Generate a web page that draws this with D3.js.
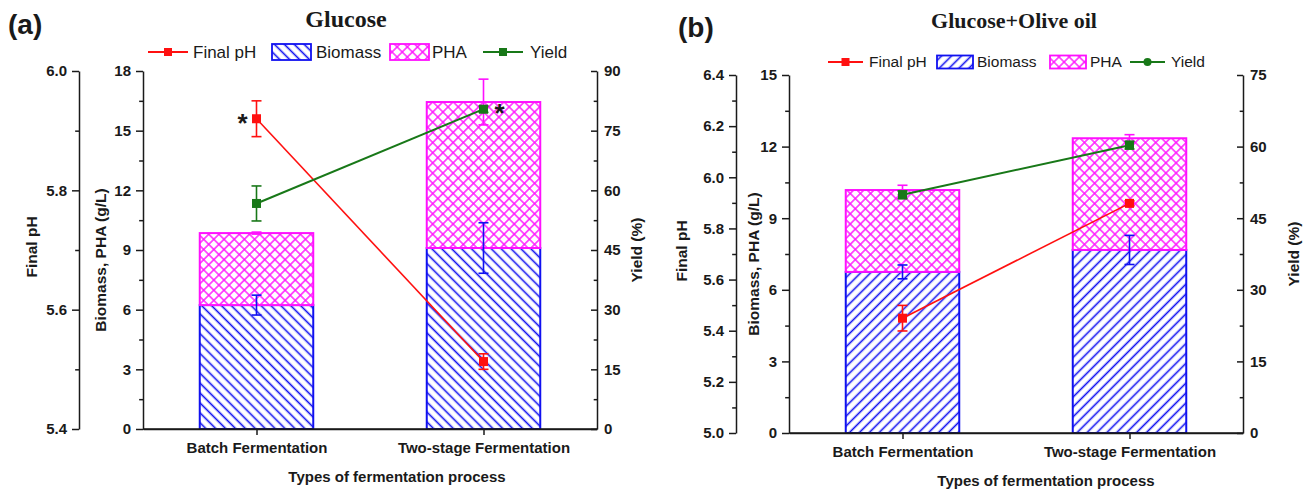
<!DOCTYPE html>
<html>
<head>
<meta charset="utf-8">
<script src="https://cdn.jsdelivr.net/npm/d3@7"></script>
<style>
  body { margin: 0; background: #fff; }
  svg text { font-family: "Liberation Sans", Arial, sans-serif; }
</style>
</head>
<body>
<svg id="chart" width="1310" height="490"></svg>
<script>
// categories shared by both panels
const categories = ["Batch Fermentation", "Two-stage Fermentation"];
const legendLabels = ["Final pH", "Biomass", "PHA", "Yield"];

// panel (a) Glucose
const biomassA = [6.23, 9.1];
const biomassErrA = [0.5, 1.27];
const phaA = [3.62, 7.34];
const phaErrA = [0.05, 1.15];
const phA = [5.92, 5.513];
const phErrA = [0.03, 0.013];
const yieldA = [56.7, 80.4];
const yieldErrA = [4.4, 0.8];
const starsA = [["ph", 0], ["yield", 1]];   // which point gets an asterisk

// panel (b) Glucose+Olive oil
const biomassB = [6.75, 7.67];
const biomassErrB = [0.29, 0.61];
const phaB = [3.43, 4.68];
const phaErrB = [0.2, 0.15];
const phB = [5.449, 5.898];
const phErrB = [0.05, 0.01];
const yieldB = [49.9, 60.3];
const yieldErrB = [0.8, 0.8];

// tick values
const phTicksA = [5.4, 5.6, 5.8, 6.0], phMinorA = [5.5, 5.7, 5.9];
const massTicksA = [0, 3, 6, 9, 12, 15, 18], massMinorA = [1.5, 4.5, 7.5, 10.5, 13.5, 16.5];
const yieldTicksA = [0, 15, 30, 45, 60, 75, 90], yieldMinorA = [7.5, 22.5, 37.5, 52.5, 67.5, 82.5];
const phTicksB = [5.0, 5.2, 5.4, 5.6, 5.8, 6.0, 6.2, 6.4], phMinorB = [5.1, 5.3, 5.5, 5.7, 5.9, 6.1, 6.3];
const massTicksB = [0, 3, 6, 9, 12, 15], massMinorB = [1.5, 4.5, 7.5, 10.5, 13.5];
const yieldTicksB = [0, 15, 30, 45, 60, 75], yieldMinorB = [7.5, 22.5, 37.5, 52.5, 67.5];

const BLUE = "#1010f0", MAGENTA = "#ff10ff", RED = "#ff1010", GREEN = "#187818", INK = "#1a1a1a";

const svg = d3.select("#chart");
const defs = svg.append("defs");

// hatch patterns
function linePattern(id, angle) {
    const p = defs.append("pattern")
        .attr("id", id)
        .attr("patternUnits", "userSpaceOnUse")
        .attr("width", 7).attr("height", 7)
        .attr("patternTransform", `rotate(${angle})`);
    p.append("rect").attr("width", 7).attr("height", 7).attr("fill", "#fff");
    p.append("line").attr("x1", 3.5).attr("x2", 3.5).attr("y1", 0).attr("y2", 7)
        .attr("stroke", BLUE).attr("stroke-width", 1.6);
}
linePattern("hatchBack", -45);
linePattern("hatchFwd", 45);
const cross = defs.append("pattern")
    .attr("id", "cross")
    .attr("patternUnits", "userSpaceOnUse")
    .attr("width", 7.2).attr("height", 7.2)
    .attr("patternTransform", "rotate(45)");
cross.append("rect").attr("width", 7.2).attr("height", 7.2).attr("fill", "#fff");
cross.append("path").attr("d", "M0,3.6H7.2M3.6,0V7.2")
    .attr("stroke", MAGENTA).attr("stroke-width", 1.4);

function marker(g, shape, x, y, color, size) {
    if (shape === "circle") {
        g.append("circle").attr("cx", x).attr("cy", y).attr("r", size / 2).attr("fill", color);
    } else {
        g.append("rect").attr("x", x - size / 2).attr("y", y - size / 2)
            .attr("width", size).attr("height", size).attr("fill", color);
    }
}

function errBar(g, x, y0, y1, color, cap) {
    g.append("line").attr("x1", x).attr("x2", x).attr("y1", y0).attr("y2", y1)
        .attr("stroke", color).attr("stroke-width", 1.6);
    [y0, y1].forEach(yy => g.append("line")
        .attr("x1", x - cap).attr("x2", x + cap).attr("y1", yy).attr("y2", yy)
        .attr("stroke", color).attr("stroke-width", 1.6));
}

function drawPanel(c) {
    const g = svg.append("g");

    const x = d3.scalePoint().domain(categories).range([c.left, c.right]).padding(0.5);
    const yMass = d3.scaleLinear().domain(c.massDomain).range([c.bottom, c.top]);
    const yPh = d3.scaleLinear().domain(c.phDomain).range([c.bottom, c.top]);
    const yYield = d3.scaleLinear().domain(c.yieldDomain).range([c.bottom, c.top]);
    const bw = x.step() * 0.5;

    // stacked bars
    const rows = categories.map((cat, i) => ({cat, bio: c.biomass[i], pha: c.pha[i]}));
    g.selectAll(".bio").data(rows).join("rect")
        .attr("x", d => x(d.cat) - bw / 2).attr("width", bw)
        .attr("y", d => yMass(d.bio)).attr("height", d => yMass(0) - yMass(d.bio))
        .attr("fill", `url(#${c.hatch})`).attr("stroke", BLUE).attr("stroke-width", 2);
    g.selectAll(".pha").data(rows).join("rect")
        .attr("x", d => x(d.cat) - bw / 2).attr("width", bw)
        .attr("y", d => yMass(d.bio + d.pha)).attr("height", d => yMass(d.bio) - yMass(d.bio + d.pha))
        .attr("fill", "url(#cross)").attr("stroke", MAGENTA).attr("stroke-width", 2);

    // error bars on bars
    rows.forEach((d, i) => {
        const bt = d.bio, pt = d.bio + d.pha;
        errBar(g, x(d.cat), yMass(bt + c.biomassErr[i]), yMass(bt - c.biomassErr[i]), BLUE, 5);
        errBar(g, x(d.cat), yMass(pt + c.phaErr[i]), yMass(pt - c.phaErr[i]), MAGENTA, 5);
    });

    // lines
    const lineFor = (vals, sc) => d3.line().x((d, i) => x(categories[i])).y(d => sc(d))(vals);
    g.append("path").attr("d", lineFor(c.ph, yPh)).attr("fill", "none")
        .attr("stroke", RED).attr("stroke-width", 1.6);
    g.append("path").attr("d", lineFor(c.yield, yYield)).attr("fill", "none")
        .attr("stroke", GREEN).attr("stroke-width", 2);

    categories.forEach((cat, i) => {
        errBar(g, x(cat), yPh(c.ph[i] + c.phErr[i]), yPh(c.ph[i] - c.phErr[i]), RED, 5);
        marker(g, "square", x(cat), yPh(c.ph[i]), RED, 9);
        errBar(g, x(cat), yYield(c.yield[i] + c.yieldErr[i]), yYield(c.yield[i] - c.yieldErr[i]), GREEN, 5);
        marker(g, "square", x(cat), yYield(c.yield[i]), GREEN, 9);
    });

    // significance asterisks
    (c.stars || []).forEach(([which, i]) => {
        const yy = which === "ph" ? yPh(c.ph[i]) : yYield(c.yield[i]);
        const dx = which === "ph" ? -14 : 16;
        g.append("text").attr("x", x(categories[i]) + dx).attr("y", yy + 13)
            .attr("text-anchor", "middle").attr("font-size", 26).attr("font-weight", "bold")
            .attr("fill", INK).text("*");
    });

    // axes
    const styleAxis = sel => {
        sel.selectAll("path, line").attr("stroke", INK).attr("stroke-width", 1.5);
        sel.selectAll("text").attr("font-size", 15).attr("font-weight", "bold").attr("fill", INK)
            .style("font-family", '"Liberation Sans", Arial, sans-serif');
    };
    const addAxis = (axisFn, sc, major, minor, fmt, xPos, inner, pad) => {
        g.append("g").attr("transform", `translate(${xPos},0)`)
            .call(axisFn(sc).tickValues(major).tickFormat(fmt).tickSize(inner).tickSizeOuter(0).tickPadding(pad))
            .call(styleAxis);
        g.append("g").attr("transform", `translate(${xPos},0)`)
            .call(axisFn(sc).tickValues(minor).tickFormat("").tickSize(inner * 0.55).tickSizeOuter(0))
            .call(sel => sel.select(".domain").remove())
            .call(styleAxis);
    };
    addAxis(d3.axisLeft, yPh, c.phTicks, c.phMinor, d3.format(".1f"), c.phAxisX, 7, 5);
    addAxis(d3.axisLeft, yMass, c.massTicks, c.massMinor, d3.format("d"), c.left, 7, 5);
    addAxis(d3.axisRight, yYield, c.yieldTicks, c.yieldMinor, d3.format("d"), c.right, -6, 7);

    g.append("g").attr("transform", `translate(0,${c.bottom})`)
        .call(d3.axisBottom(x).tickSize(6).tickSizeOuter(0).tickPadding(7))
        .call(styleAxis);
    g.append("line").attr("x1", c.left).attr("x2", c.right).attr("y1", c.bottom).attr("y2", c.bottom)
        .attr("stroke", INK).attr("stroke-width", 1.5);

    // axis titles
    const mid = (c.top + c.bottom) / 2;
    const vTitle = (txt, cx, cy) => g.append("text")
        .attr("transform", `translate(${cx},${cy}) rotate(-90)`)
        .attr("text-anchor", "middle").attr("dominant-baseline", "central")
        .attr("font-size", 15.5).attr("font-weight", "bold").attr("fill", INK).text(txt);
    vTitle("Final pH", c.phTitleX, mid - 3);
    vTitle("Biomass, PHA (g/L)", c.massTitleX, mid + 10);
    vTitle("Yield (%)", c.yieldTitleX, mid);
    g.append("text").attr("x", c.xTitleX).attr("y", c.xTitleY)
        .attr("text-anchor", "middle").attr("font-size", 15).attr("font-weight", "bold")
        .attr("fill", INK).text("Types of fermentation process");

    // titles
    g.append("text").attr("x", c.titleX).attr("y", c.titleY).attr("text-anchor", "middle")
        .style("font-family", '"Liberation Serif", "Times New Roman", serif')
        .attr("font-size", c.titleSize).attr("font-weight", "bold").attr("fill", INK).text(c.title);
    g.append("text").attr("x", c.tagX).attr("y", c.tagY)
        .attr("font-size", 28).attr("font-weight", "bold").attr("fill", INK).text(c.tag);

    // legend
    const L = c.legend;
    const lg = g.append("g").attr("transform", `translate(0,${L.y})`);
    const textAt = (tx, s) => lg.append("text").attr("x", tx).attr("y", 0).attr("dy", "0.35em")
        .attr("font-size", L.fs).attr("fill", INK).text(s);
    lg.append("line").attr("x1", L.ph[0]).attr("x2", L.ph[0] + L.lineW).attr("stroke", RED).attr("stroke-width", 1.8);
    marker(lg, "square", L.ph[0] + L.lineW / 2, 0, RED, 8);
    textAt(L.ph[1], legendLabels[0]);
    lg.append("rect").attr("x", L.bio[0]).attr("y", -L.sh / 2).attr("width", L.sw).attr("height", L.sh)
        .attr("fill", `url(#${c.hatch})`).attr("stroke", BLUE).attr("stroke-width", 1.8);
    textAt(L.bio[1], legendLabels[1]);
    lg.append("rect").attr("x", L.pha[0]).attr("y", -L.sh / 2).attr("width", L.sw).attr("height", L.sh)
        .attr("fill", "url(#cross)").attr("stroke", MAGENTA).attr("stroke-width", 1.8);
    textAt(L.pha[1], legendLabels[2]);
    lg.append("line").attr("x1", L.yld[0]).attr("x2", L.yld[0] + L.lineW).attr("stroke", GREEN).attr("stroke-width", 1.8);
    marker(lg, L.yieldShape, L.yld[0] + L.lineW / 2, 0, GREEN, 8);
    textAt(L.yld[1], legendLabels[3]);
}

drawPanel({
    tag: "(a)", tagX: 8, tagY: 34, title: "Glucose", titleX: 346, titleY: 27, titleSize: 24,
    left: 143, right: 597, top: 71, bottom: 429, phAxisX: 79,
    massDomain: [0, 18], phDomain: [5.4, 6.0], yieldDomain: [0, 90],
    biomass: biomassA, biomassErr: biomassErrA, pha: phaA, phaErr: phaErrA,
    ph: phA, phErr: phErrA, yield: yieldA, yieldErr: yieldErrA, stars: starsA,
    phTicks: phTicksA, phMinor: phMinorA, massTicks: massTicksA, massMinor: massMinorA,
    yieldTicks: yieldTicksA, yieldMinor: yieldMinorA,
    hatch: "hatchBack",
    phTitleX: 31, massTitleX: 100, yieldTitleX: 636, xTitleX: 397, xTitleY: 482,
    legend: {y: 52, fs: 17, lineW: 40, sw: 39, sh: 16, ph: [148, 193], bio: [272, 316], pha: [390, 432], yld: [483, 530], yieldShape: "square"}
});

drawPanel({
    tag: "(b)", tagX: 678, tagY: 37, title: "Glucose+Olive oil", titleX: 1014, titleY: 28, titleSize: 22,
    left: 789, right: 1243, top: 75, bottom: 433, phAxisX: 736,
    massDomain: [0, 15], phDomain: [5.0, 6.4], yieldDomain: [0, 75],
    biomass: biomassB, biomassErr: biomassErrB, pha: phaB, phaErr: phaErrB,
    ph: phB, phErr: phErrB, yield: yieldB, yieldErr: yieldErrB, stars: [],
    phTicks: phTicksB, phMinor: phMinorB, massTicks: massTicksB, massMinor: massMinorB,
    yieldTicks: yieldTicksB, yieldMinor: yieldMinorB,
    hatch: "hatchFwd",
    phTitleX: 681, massTitleX: 753, yieldTitleX: 1293, xTitleX: 1046, xTitleY: 486,
    legend: {y: 62, fs: 15.5, lineW: 35, sw: 36, sh: 13, ph: [828, 869], bio: [937, 977], pha: [1050, 1090], yld: [1130, 1171], yieldShape: "circle"}
});
</script>
</body>
</html>
